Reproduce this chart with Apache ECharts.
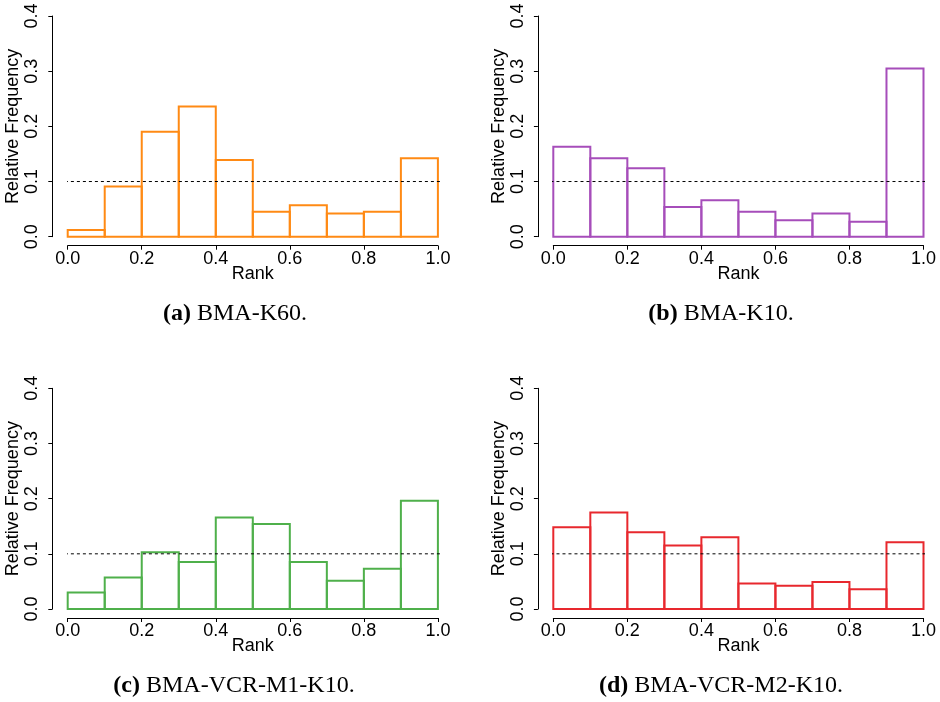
<!DOCTYPE html>
<html>
<head>
<meta charset="utf-8">
<script src="https://cdn.jsdelivr.net/npm/echarts@6/dist/echarts.min.js"></script>
<style>
  html, body { margin: 0; padding: 0; background: #fff; }
  #chart { width: 940px; height: 702px; }
</style>
</head>
<body>
<div id="chart"></div>
<script>
// rank histogram bins (width 0.1)
const binStarts = [0.0, 0.1, 0.2, 0.3, 0.4, 0.5, 0.6, 0.7, 0.8, 0.9]
const binWidth = 0.1
const uniformLevel = 0.1

const freqK60 = [0.012, 0.091, 0.190, 0.236, 0.139, 0.045, 0.057, 0.042, 0.045, 0.142]
const freqK10 = [0.163, 0.142, 0.124, 0.054, 0.066, 0.045, 0.030, 0.042, 0.027, 0.305]
const freqM1 = [0.030, 0.057, 0.103, 0.085, 0.166, 0.154, 0.085, 0.051, 0.073, 0.196]
const freqM2 = [0.148, 0.175, 0.139, 0.115, 0.130, 0.046, 0.042, 0.049, 0.036, 0.121]

const panelTags = ['(a)', '(b)', '(c)', '(d)']
const panelNames = ['BMA-K60.', 'BMA-K10.', 'BMA-VCR-M1-K10.', 'BMA-VCR-M2-K10.']

const xTicks = { min: 0, max: 1, interval: 0.2 }
const yTicks = { min: 0, max: 0.4, interval: 0.1 }

const panels = [
  { freq: freqK60, color: '#FF8A14', left: 67.7, top: 16, capX: 230, capY: 297 },
  { freq: freqK10, color: '#A64DBA', left: 553.3, top: 16, capX: 716, capY: 297 },
  { freq: freqM1, color: '#4FB04B', left: 67.7, top: 388.3, capX: 229, capY: 669 },
  { freq: freqM2, color: '#E8282E', left: 553.3, top: 388.3, capX: 716, capY: 669 }
]

const sansFont = '"Liberation Sans", Arial, sans-serif'
const serifFont = '"Liberation Serif", "Times New Roman", serif'

const chart = echarts.init(document.getElementById('chart'))

const grids = []
const xAxes = []
const yAxes = []
const series = []
const titles = []

panels.forEach((p, i) => {
  grids.push({ left: p.left, top: p.top, width: 370.2, height: 220.7 })

  xAxes.push({
    gridIndex: i,
    type: 'value',
    min: xTicks.min,
    max: xTicks.max,
    interval: xTicks.interval,
    offset: 9,
    name: 'Rank',
    nameLocation: 'middle',
    nameGap: 19,
    nameMoveOverlap: false,
    nameTextStyle: { color: '#000', fontFamily: sansFont, fontSize: 18 },
    axisLine: { show: true, onZero: false, lineStyle: { color: '#000', width: 1 } },
    axisTick: { show: true, length: 4, lineStyle: { color: '#000' } },
    axisLabel: {
      color: '#000', fontFamily: sansFont, fontSize: 18, margin: 4,
      formatter: v => v.toFixed(1)
    },
    splitLine: { show: false }
  })

  yAxes.push({
    gridIndex: i,
    type: 'value',
    min: yTicks.min,
    max: yTicks.max,
    interval: yTicks.interval,
    offset: 15.4,
    name: 'Relative Frequency',
    nameLocation: 'middle',
    nameRotate: 90,
    nameGap: 30,
    nameMoveOverlap: false,
    nameTextStyle: { color: '#000', fontFamily: sansFont, fontSize: 18 },
    axisLine: { show: true, onZero: false, lineStyle: { color: '#000', width: 1 } },
    axisTick: { show: true, length: 4, lineStyle: { color: '#000' } },
    axisLabel: {
      color: '#000', fontFamily: sansFont, fontSize: 18, rotate: 90, margin: 11,
      formatter: v => v.toFixed(1)
    },
    splitLine: { show: false }
  })

  series.push({
    type: 'custom',
    xAxisIndex: i,
    yAxisIndex: i,
    silent: true,
    data: binStarts.map((b, k) => [b, b + binWidth, p.freq[k]]),
    renderItem: (params, api) => {
      const p0 = api.coord([api.value(0), 0])
      const p1 = api.coord([api.value(1), api.value(2)])
      return {
        type: 'rect',
        shape: { x: p0[0], y: p1[1], width: p1[0] - p0[0], height: p0[1] - p1[1] },
        style: { fill: 'none', stroke: p.color, lineWidth: 2 }
      }
    }
  })

  // uniform reference line
  series.push({
    type: 'line',
    xAxisIndex: i,
    yAxisIndex: i,
    silent: true,
    clip: false,
    showSymbol: false,
    symbol: 'none',
    data: [[-0.04, uniformLevel], [1.04, uniformLevel]],
    lineStyle: { color: '#000', width: 1, type: [3, 3] },
    z: 3
  })

  titles.push({
    text: '{b|' + panelTags[i] + '} ' + panelNames[i],
    left: p.capX,
    top: p.capY,
    textAlign: 'center',
    textStyle: {
      color: '#000', fontFamily: serifFont, fontSize: 24, fontWeight: 'normal',
      rich: { b: { fontFamily: serifFont, fontSize: 24, fontWeight: 'bold', color: '#000' } }
    }
  })
})

chart.setOption({
  backgroundColor: '#fff',
  animation: false,
  title: titles,
  grid: grids,
  xAxis: xAxes,
  yAxis: yAxes,
  series: series
})
</script>
</body>
</html>
